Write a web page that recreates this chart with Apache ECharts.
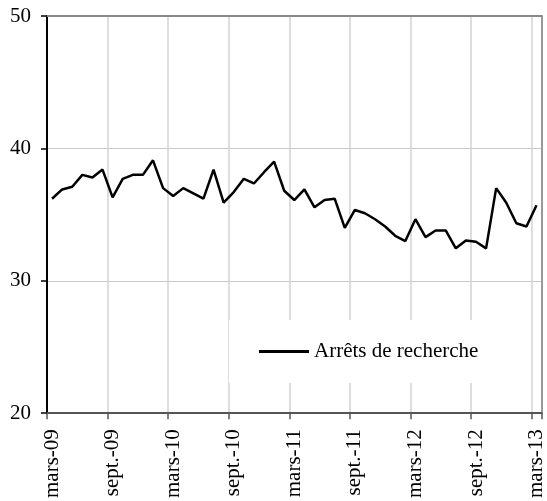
<!DOCTYPE html>
<html>
<head>
<meta charset="utf-8">
<script src="https://cdn.jsdelivr.net/npm/echarts@6/dist/echarts.min.js"></script>
<style>
html,body{margin:0;padding:0;background:#fff;}
#chart{width:547px;height:501px;}
</style>
</head>
<body>
<div id="chart"></div>
<script>
var months = [
  "mars-09","avr.-09","mai-09","juin-09","juil.-09","août-09","sept.-09","oct.-09","nov.-09","déc.-09","janv.-10","févr.-10",
  "mars-10","avr.-10","mai-10","juin-10","juil.-10","août-10","sept.-10","oct.-10","nov.-10","déc.-10","janv.-11","févr.-11",
  "mars-11","avr.-11","mai-11","juin-11","juil.-11","août-11","sept.-11","oct.-11","nov.-11","déc.-11","janv.-12","févr.-12",
  "mars-12","avr.-12","mai-12","juin-12","juil.-12","août-12","sept.-12","oct.-12","nov.-12","déc.-12","janv.-13","févr.-13",
  "mars-13"
];
var arretsRecherche = [
  36.2, 36.9, 37.1, 38.0, 37.8, 38.4, 36.3, 37.7, 38.0, 38.0, 39.1, 37.0,
  36.4, 37.0, 36.6, 36.2, 38.4, 35.9, 36.7, 37.7, 37.35, 38.2, 39.0, 36.8,
  36.1, 36.9, 35.55, 36.1, 36.2, 34.0, 35.35, 35.1, 34.65, 34.1, 33.4, 33.0,
  34.65, 33.3, 33.8, 33.8, 32.45, 33.05, 32.95, 32.45, 37.0, 35.9, 34.35, 34.1,
  35.7
];
var seriesName = "Arrêts de recherche";
var yMin = 20, yMax = 50, yStep = 10;

var font = "'Liberation Serif', 'Times New Roman', serif";
var chart = echarts.init(document.getElementById('chart'), null, {renderer: 'canvas'});
chart.setOption({
  animation: false,
  backgroundColor: '#fff',
  textStyle: {fontFamily: font, color: '#000'},
  grid: {left: 47, right: 0.5, top: 16, bottom: 87, containLabel: false},
  legend: {
    data: [{name: seriesName, icon: 'rect'}],
    left: 229, top: 320,
    padding: [21, 18, 21, 30],
    itemWidth: 50, itemHeight: 3,
    backgroundColor: '#fff',
    textStyle: {fontFamily: font, fontSize: 21, color: '#000'}
  },
  xAxis: [{
    type: 'category',
    data: months,
    boundaryGap: true,
    axisLine: {lineStyle: {color: '#555', width: 2}},
    axisTick: {show: true, interval: 5, length: 6, lineStyle: {color: '#555', width: 1.5}},
    axisLabel: {interval: 5, rotate: 90, margin: 16, fontFamily: font, fontSize: 21, color: '#000'},
    splitLine: {show: true, interval: 5, lineStyle: {color: '#d3d3d3', width: 1.5}}
  }, {
    type: 'category',
    data: months,
    position: 'top',
    boundaryGap: true,
    axisLine: {show: true, lineStyle: {color: '#888', width: 2}},
    axisTick: {show: false},
    axisLabel: {show: false},
    splitLine: {show: false}
  }],
  yAxis: [{
    type: 'value',
    min: yMin, max: yMax, interval: yStep,
    axisLine: {show: true, lineStyle: {color: '#000', width: 2}},
    axisTick: {show: true, length: 6, lineStyle: {color: '#000', width: 1.5}},
    axisLabel: {margin: 16, fontFamily: font, fontSize: 21, color: '#000'},
    splitLine: {show: true, lineStyle: {color: '#c8c8c8', width: 1}}
  }, {
    type: 'value',
    position: 'right',
    min: yMin, max: yMax, interval: yStep,
    axisLine: {show: true, lineStyle: {color: '#999', width: 2}},
    axisTick: {show: false},
    axisLabel: {show: false},
    splitLine: {show: false}
  }],
  series: [{
    name: seriesName,
    type: 'line',
    data: arretsRecherche,
    xAxisIndex: 0, yAxisIndex: 0,
    symbol: 'none',
    showSymbol: false,
    itemStyle: {color: '#000'},
    lineStyle: {color: '#000', width: 2.5},
    z: 5
  }]
});
</script>
</body>
</html>
